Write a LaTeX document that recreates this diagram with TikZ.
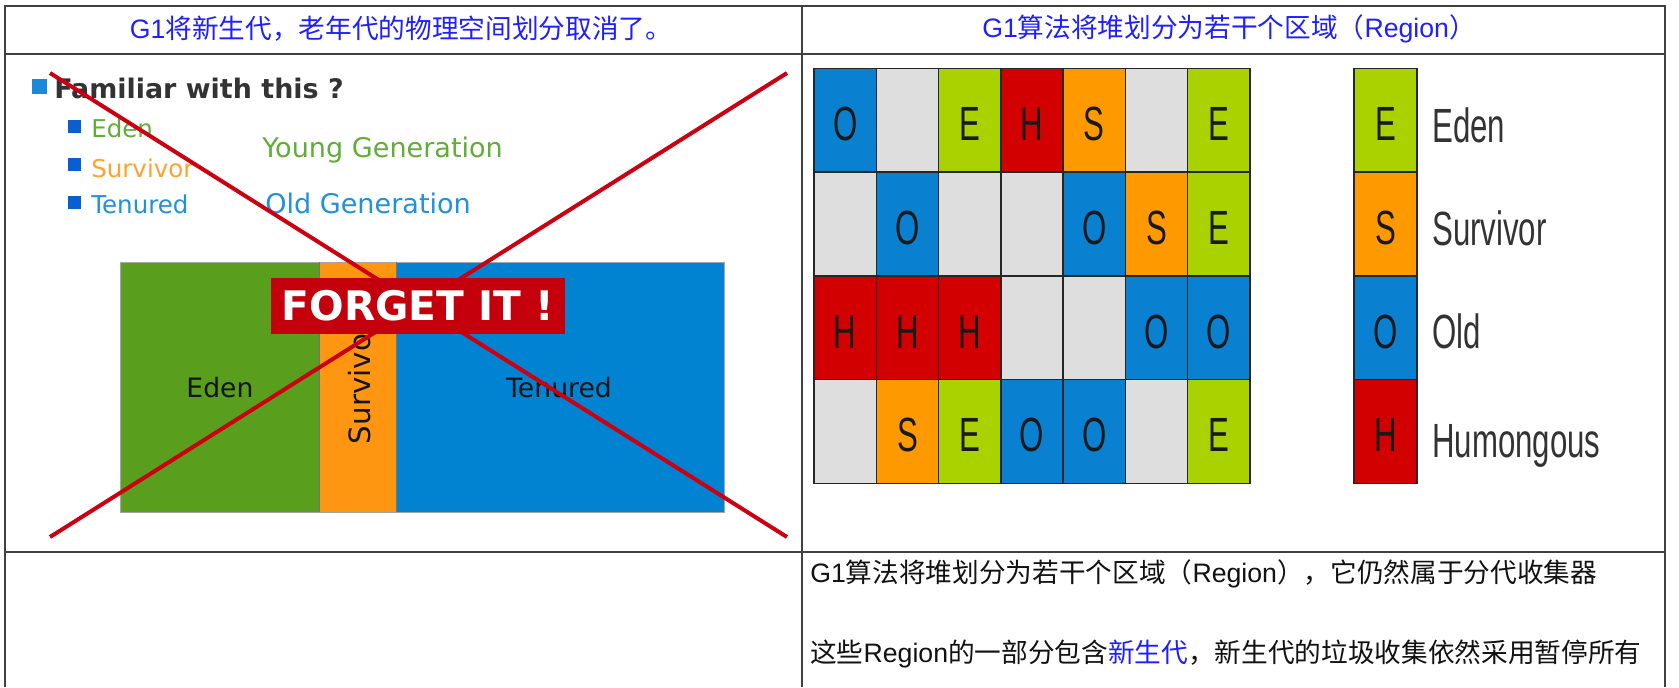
\documentclass[tikz,border=0pt]{standalone}
\usepackage{fontspec}
\setmainfont{Liberation Sans}
\newfontfamily\cjk{Noto Sans CJK SC}
\newfontfamily\dvs{DejaVu Sans}
\newfontfamily\narrow[FakeStretch=0.65]{Liberation Sans}
\definecolor{tcol}{HTML}{404040}
\definecolor{hblue}{HTML}{1F1FFF}
\definecolor{bgreen}{HTML}{5A9E1E}
\definecolor{borange}{HTML}{FF9612}
\definecolor{bblue}{HTML}{0283D1}
\definecolor{tgreen}{HTML}{62AC3A}
\definecolor{torange}{HTML}{FFA233}
\definecolor{tblue}{HTML}{2090E0}
\definecolor{bulA}{HTML}{1A8AD8}
\definecolor{bulB}{HTML}{0A5FD0}
\definecolor{xred}{HTML}{CC0010}
\definecolor{fred}{HTML}{C4000C}
\definecolor{gE}{HTML}{AAD100}
\definecolor{gS}{HTML}{FF9900}
\definecolor{gO}{HTML}{0A80D0}
\definecolor{gH}{HTML}{D20000}
\definecolor{gX}{HTML}{DEDEDE}
\def\lE{E}\def\lS{S}\def\lO{O}\def\lH{H}\def\lX{}
\begin{document}
\begin{tikzpicture}[x=0.75pt,y=-0.75pt,
  tline/.style={draw=tcol,line width=1.5pt},
  hdr/.style={text=hblue,inner sep=0,font=\fontsize{20pt}{24pt}\selectfont},
  body/.style={text=black!93,inner sep=0,anchor=base west,font=\fontsize{20pt}{24pt}\selectfont},
  famtext/.style={text=black!80,inner sep=0,anchor=base west,font=\dvs\bfseries\fontsize{20.2pt}{24pt}\selectfont},
  subtext/.style={inner sep=0,anchor=base west,font=\dvs\fontsize{18.4pt}{22pt}\selectfont},
  gentext/.style={inner sep=0,anchor=base west,font=\dvs\fontsize{20.3pt}{24pt}\selectfont},
  barlabel/.style={inner sep=0,text=black!92,font=\dvs\fontsize{20pt}{24pt}\selectfont},
  xline/.style={draw=xred,line width=3pt},
  forget/.style={fill=fred,text=white,inner sep=0,minimum width=220.5pt,minimum height=42pt,font=\dvs\bfseries\fontsize{30.5pt}{34pt}\selectfont},
  cell/.style={draw=black!85,line width=1.1pt,inner sep=0,minimum width=46.7pt,minimum height=77.8pt},
  lettr/.style={inner sep=0,text=black!90,font=\narrow\fontsize{36pt}{40pt}\selectfont},
  legtext/.style={anchor=base west,inner sep=0,text=black!80,font=\narrow\fontsize{36pt}{40pt}\selectfont}]
\useasboundingbox (0,0) rectangle (1679,687);
\fill[white] (0,0) rectangle (1679,687);
% table
\draw[tline] (4.7,687) -- (4.7,5.7) -- (1665,5.7) -- (1665,687);
\draw[tline] (4.7,53.5) -- (1665,53.5);
\draw[tline] (4.7,551.7) -- (1665,551.7);
\draw[tline] (802.3,5.7) -- (802.3,687);
% headers
\node[hdr] (h1) at (401,29) {G1{\cjk 将新生代，老年代的物理空间划分取消了。}};
\node[hdr] (h2) at (1229,29) {G1{\cjk 算法将堆划分为若干个区域（}Region{\cjk ）}};
% left panel list
\fill[bulA] (32,79) rectangle (47,94);
\node[famtext] (fam) at (54,98) {Familiar with this ?};
\fill[bulB] (68,120) rectangle (81,133);
\fill[bulB] (68,158) rectangle (81,171);
\fill[bulB] (68,196) rectangle (81,209);
\node[subtext,text=tgreen] (le) at (91,137) {Eden};
\node[subtext,text=torange] (ls) at (91,177) {Survivor};
\node[subtext,text=tblue] (lt) at (91,213) {Tenured};
\node[gentext,text=tgreen] (yg) at (262,157) {Young Generation};
\node[gentext,text=tblue] (og) at (265,213) {Old Generation};
% bar
\fill[bgreen] (120,262) rectangle (319,512);
\fill[borange] (319,262) rectangle (396,512);
\fill[bblue] (396,262) rectangle (724,512);
\draw[black!35,line width=0.6pt] (120,262) rectangle (724,512);
\draw[black!55,line width=0.5pt] (319,262) -- (319,512);
\draw[black!55,line width=0.5pt] (396,262) -- (396,512);
\node[barlabel] (be) at (220,388) {Eden};
\node[barlabel,rotate=90,anchor=base,font=\dvs\fontsize{22pt}{26pt}\selectfont] (bs) at (370,383) {Survivor};
\node[barlabel] (bt) at (559,388) {Tenured};
% cross
\coordinate (xa) at (50,73);
\coordinate (xb) at (787,537);
\coordinate (xc) at (787,73);
\coordinate (xd) at (50,537);
\draw[xline] (xa) -- (xb);
\draw[xline] (xc) -- (xd);
\node[forget] (fg) at (418,306) {FORGET IT !};
% grid
\foreach \row [count=\r from 0] in {{O,X,E,H,S,X,E},{X,O,X,X,O,S,E},{H,H,H,X,X,O,O},{X,S,E,O,O,X,E}} {
  \foreach \t [count=\c from 0] in \row {
    \node[cell,fill=g\t] (g\r\c) at ({814+62.29*(\c+0.5)},{68.5+103.7*(\r+0.5)}) {};
    \node[lettr] (t\r\c) at ([yshift=-3pt]g\r\c.center) {\csname l\t\endcsname};
  }
}
% legend
\foreach \t/\lab/\bl [count=\r from 0] in {E/Eden/142,S/Survivor/245,O/Old/348,H/Humongous/457} {
  \node[cell,fill=g\t,minimum width=47.2pt] (k\r) at (1385.5,{68.5+103.7*(\r+0.5)}) {};
  \node[lettr] (kt\r) at ([yshift=-3pt]k\r.center) {\t};
  \node[legtext] (kl\r) at (1432,\bl) {\lab};
}
% bottom text
\node[body] (b1) at (810,582) {G1{\cjk 算法将堆划分为若干个区域（}Region{\cjk ），它仍然属于分代收集器}};
\node[body] (b2) at (810,662) {{\cjk 这些}Region{\cjk 的一部分包含}{\cjk\color{hblue}新生代}{\cjk ，新生代的垃圾收集依然采用暂停所有}};
\end{tikzpicture}
\end{document}
